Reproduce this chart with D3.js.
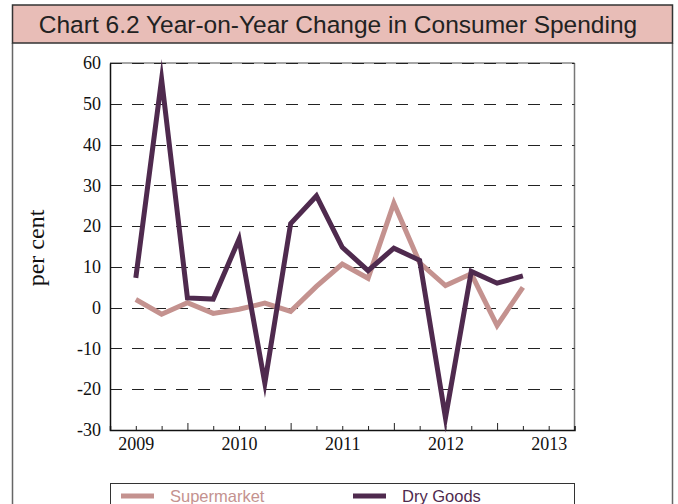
<!DOCTYPE html>
<html>
<head>
<meta charset="utf-8">
<script src="https://cdn.jsdelivr.net/npm/d3@7"></script>
<style>
  body { margin: 0; background: #fff; }
  svg { display: block; }
</style>
</head>
<body>
<svg id="chart" width="678" height="504"></svg>
<script>
// quarters, starting at Q1 2009
var quarters = d3.range(1, 17);
var supermarket = [2, -1.6, 1.2, -1.4, -0.4, 1.1, -0.9, 5.2, 10.7, 7.2, 25.6, 11, 5.4, 8.3, -4.4, 5];
var dryGoods = [7.3, 56, 2.4, 2.1, 16.8, -18.5, 20.6, 27.4, 14.8, 9.1, 14.6, 11.6, -27, 8.9, 6, 7.8];
var yearLabels = ["2009", "2010", "2011", "2012", "2013"];
var yearTickPos = [1, 5, 9, 13, 17];
var majorTicks = [3, 7, 11, 15];
var yTicks = [-30, -20, -10, 0, 10, 20, 30, 40, 50, 60];

var pink = "#c4928f",
    plum = "#4f2a4e";

var svg = d3.select("#chart");

// outer frame + title bar
svg.append("line").attr("x1", 12.5).attr("x2", 12.5).attr("y1", 43).attr("y2", 504)
    .attr("stroke", "#666").attr("stroke-width", 1.5);
svg.append("line").attr("x1", 672.5).attr("x2", 672.5).attr("y1", 43).attr("y2", 504)
    .attr("stroke", "#666").attr("stroke-width", 1.5);
svg.append("rect")
    .attr("x", 12.5).attr("y", 5).attr("width", 660).attr("height", 38)
    .attr("fill", "#e8bdb7").attr("stroke", "#333").attr("stroke-width", 1.5);
svg.append("text")
    .attr("x", 338).attr("y", 33)
    .attr("text-anchor", "middle")
    .style("font-family", "Liberation Sans, Arial, sans-serif")
    .style("font-size", "24.5px")
    .style("fill", "#222")
    .text("Chart 6.2 Year-on-Year Change in Consumer Spending");

// plot area
var plot = {left: 110, right: 574.5, top: 63, bottom: 430};

var x = d3.scaleLinear().domain([0, 18]).range([plot.left, plot.right]);
var y = d3.scaleLinear().domain([-30, 60]).range([plot.bottom, plot.top]);

// frame on the right / top
svg.append("line").attr("x1", plot.right).attr("x2", plot.right).attr("y1", plot.top).attr("y2", plot.bottom)
    .attr("stroke", "#777").attr("stroke-width", 1.5);
svg.append("line").attr("x1", plot.left).attr("x2", plot.right).attr("y1", plot.top).attr("y2", plot.top)
    .attr("stroke", "#888").attr("stroke-width", 1.5);

// dashed gridlines
svg.append("g")
    .selectAll("line")
    .data(yTicks.filter(d => d > -30))
    .enter().append("line")
    .attr("x1", plot.left).attr("x2", plot.right)
    .attr("y1", d => Math.round(y(d)) + 0.5)
    .attr("y2", d => Math.round(y(d)) + 0.5)
    .attr("stroke", "#222")
    .attr("stroke-width", 1)
    .attr("stroke-dasharray", "12,10");

// y axis (plain hyphen for negatives, like the original)
var yAxis = svg.append("g")
    .attr("transform", "translate(" + plot.left + ",0)")
    .call(d3.axisLeft(y).tickValues(yTicks).tickSize(0).tickPadding(9)
        .tickFormat(d => String(d)));
yAxis.select(".domain").attr("stroke", "#111").attr("stroke-width", 1.5);
yAxis.selectAll("text")
    .style("font-family", "Liberation Serif, Times New Roman, serif")
    .style("font-size", "18px")
    .style("fill", "#111");

// x axis, ticks pointing up
var xAxis = svg.append("g")
    .attr("transform", "translate(0," + plot.bottom + ")")
    .call(d3.axisBottom(x)
        .tickValues(d3.range(1, 18))
        .tickSize(-4)
        .tickPadding(7)
        .tickFormat(function (d) {
            var i = yearTickPos.indexOf(d);
            return i >= 0 ? yearLabels[i] : "";
        }));
xAxis.select(".domain").attr("stroke", "#111").attr("stroke-width", 1.5);
xAxis.selectAll(".tick line")
    .attr("stroke", "#222")
    .attr("y2", d => majorTicks.indexOf(d) >= 0 ? -7 : -4);
xAxis.selectAll("text")
    .style("font-family", "Liberation Serif, Times New Roman, serif")
    .style("font-size", "18px")
    .style("fill", "#111");

// y label
svg.append("text")
    .attr("transform", "translate(44,248) rotate(-90)")
    .attr("text-anchor", "middle")
    .style("font-family", "Liberation Serif, Times New Roman, serif")
    .style("font-size", "24px")
    .style("fill", "#111")
    .text("per cent");

// series
var line = d3.line()
    .x(function (d, i) { return x(quarters[i]); })
    .y(function (d) { return y(d); });

svg.append("path")
    .datum(supermarket)
    .attr("d", line)
    .attr("fill", "none")
    .attr("stroke", pink)
    .attr("stroke-width", 5)
    .attr("stroke-miterlimit", 10);

svg.append("path")
    .datum(dryGoods)
    .attr("d", line)
    .attr("fill", "none")
    .attr("stroke", plum)
    .attr("stroke-width", 5)
    .attr("stroke-miterlimit", 10);

// legend
svg.append("rect")
    .attr("x", 110.5).attr("y", 483.5).attr("width", 464).attr("height", 40)
    .attr("fill", "#fff").attr("stroke", "#333").attr("stroke-width", 1);

var legendNames = ["Supermarket", "Dry Goods"];
var legendColours = [pink, plum];
var legendX = [121, 353];

var legend = svg.append("g").attr("class", "legend");
legend.selectAll("line")
    .data(legendNames)
    .enter().append("line")
    .attr("x1", (d, i) => legendX[i])
    .attr("x2", (d, i) => legendX[i] + 33)
    .attr("y1", 496).attr("y2", 496)
    .attr("stroke", (d, i) => legendColours[i])
    .attr("stroke-width", 5);
legend.selectAll("text")
    .data(legendNames)
    .enter().append("text")
    .attr("x", (d, i) => legendX[i] + 49)
    .attr("y", 502)
    .style("font-family", "Liberation Sans, Arial, sans-serif")
    .style("font-size", "16.5px")
    .style("fill", (d, i) => legendColours[i])
    .text(d => d);
</script>
</body>
</html>
